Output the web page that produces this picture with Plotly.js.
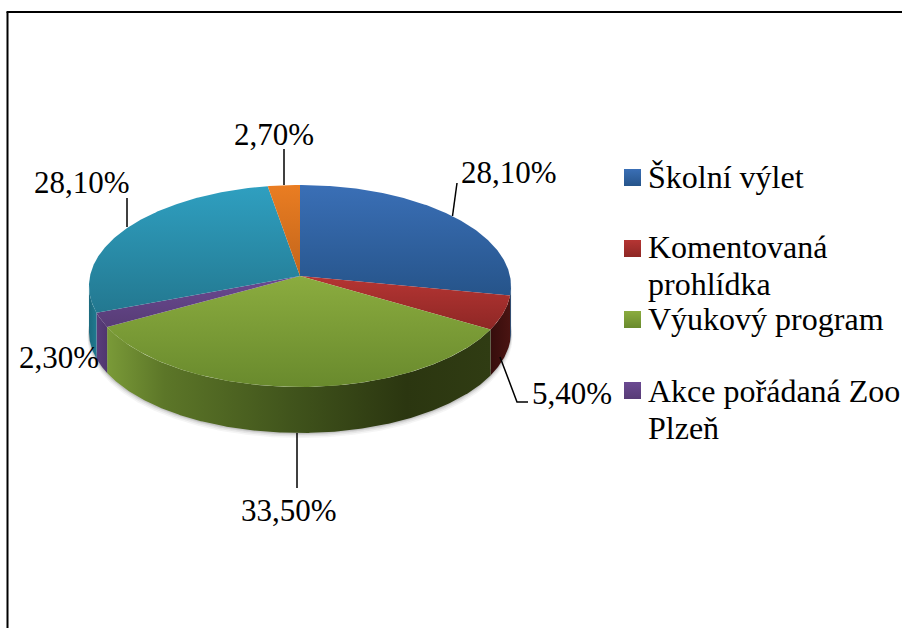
<!DOCTYPE html>
<html><head><meta charset="utf-8">
<script src="https://cdn.plot.ly/plotly-3.0.1.min.js"></script>
<style>html,body{margin:0;padding:0;background:#fff}</style></head>
<body><div id="chart" style="width:902px;height:628px"></div>
<script>
// ---- data ----
const sliceValues = [28.1, 5.4, 33.5, 2.3, 28.1, 2.7];
const sliceLabels = ['28,10%', '5,40%', '33,50%', '2,30%', '28,10%', '2,70%'];
const legendNames = ['Školní výlet', 'Komentovaná<br>prohlídka', 'Výukový program', 'Akce pořádaná Zoo<br>Plzeň'];

// ---- styles ----
const topTop  = ['#3a6fb6', '#b53533', '#8bac3f', '#6b4a92', '#2f9fc0', '#ea7d22'];
const topBot  = ['#26548a', '#8e2725', '#698a2d', '#573c76', '#237890', '#c2651b'];
const wallScale = [
  [[0,'#1f4470'],[1,'#1f4470']],
  [[0,'#360d0c'],[1,'#4a1412']],
  [[0,'#7a9a38'],[0.15,'#5c7628'],[0.5,'#3f521b'],[0.78,'#2b3610'],[1,'#303c13']],
  [[0,'#5a3e7c'],[1,'#50366f']],
  [[0,'#1c6a7e'],[1,'#1f7a90']],
  [[0,'#a8561a'],[1,'#a8561a']]
];
const cx = 300, cy = 276, A = 210, B = 100, P = 0.099, depth = 46;
const FONT = 'Liberation Serif';
const LBL = 31, LEG = 32;

function project(deg) {
  const t = deg * Math.PI / 180, X = Math.sin(t), Y = Math.cos(t), w = 1 + P * Y;
  return [cx + A * X / w, cy - B * Y / w];
}
function arc(a0, a1) {
  const pts = [], n = Math.max(2, Math.ceil(Math.abs(a1 - a0) * 2));
  for (let i = 0; i <= n; i++) pts.push(project(a0 + (a1 - a0) * i / n));
  return pts;
}
const total = sliceValues.reduce((a, b) => a + b, 0);
const traces = [];
const poly = (pts, extra) => Object.assign({
  type: 'scatter', mode: 'lines', x: pts.map(p => p[0]), y: pts.map(p => p[1]),
  fill: 'toself', line: {width: 0}, hoverinfo: 'skip', showlegend: false
}, extra);

const WALL0 = 95.7, WALL1 = 264.3;
// soft shadow below the disc
[[5, .05], [3.5, .07], [2, .10], [1, .12]].forEach(([o, a]) => {
  const rim = arc(WALL0, WALL1);
  const pts = rim.map(p => [p[0] + (p[0] > cx ? 1 : -1) * o * .3, p[1] + depth + o])
    .concat(rim.slice().reverse().map(p => [p[0], p[1] + depth - 6]));
  traces.push(poly(pts, {fillcolor: `rgba(60,60,60,${a})`}));
});
// walls, then top faces
let cum = 0;
const spans = sliceValues.map(v => { const s = [cum, cum + v * 360 / total]; cum = s[1]; return s; });
spans.forEach((s, i) => {
  const a0 = Math.max(s[0], WALL0), a1 = Math.min(s[1], WALL1);
  if (a1 <= a0) return;
  const rim = arc(a0, a1);
  const pts = rim.concat(rim.slice().reverse().map(p => [p[0], p[1] + depth]));
  const xs = pts.map(p => p[0]);
  traces.push(poly(pts, {fillgradient: {type: 'horizontal', colorscale: wallScale[i],
    start: Math.min.apply(null, xs), stop: Math.max.apply(null, xs)}}));
});
spans.forEach((s, i) => {
  const pts = [[cx, cy]].concat(arc(s[0], s[1])).concat([[cx, cy]]);
  const ys = pts.map(p => p[1]);
  traces.push(poly(pts, {fillgradient: {type: 'vertical',
    colorscale: [[0, topTop[i]], [1, topBot[i]]],
    start: Math.min.apply(null, ys), stop: Math.max.apply(null, ys)}}));
});
// legend swatches
const legendY = [177, 247, 319, 391];
const swatchY = [177.5, 248.5, 319.5, 390.5];
swatchY.forEach((y, i) => traces.push(poly(
  [[624, y - 8.5], [641, y - 8.5], [641, y + 8.5], [624, y + 8.5], [624, y - 8.5]],
  {fillgradient: {type: 'vertical', colorscale: [[0, topTop[i]], [1, topBot[i]]], start: y - 8.5, stop: y + 8.5}})));

// leader lines
const leaders = [
  [[452.5, 216], [457, 183]],
  [[500, 357], [517, 402], [528, 402]],
  [[297, 433], [297, 488]],
  [[127, 227], [127, 198]],
  [[284, 185], [284, 149]]
];
leaders.forEach(l => traces.push({type: 'scatter', mode: 'lines', x: l.map(p => p[0]), y: l.map(p => p[1]),
  line: {color: '#000', width: 1.5}, hoverinfo: 'skip', showlegend: false}));

const labelPos = [[509, 172], [572, 393], [289, 510], [59, 357], [82, 182], [274, 134]];
const annotations = sliceLabels.map((t, i) => ({
  x: labelPos[i][0], y: labelPos[i][1], text: t, showarrow: false, xanchor: 'center', yanchor: 'middle',
  font: {family: FONT, size: LBL, color: '#000'}
}));
const legendLineGap = 37;
legendNames.forEach((n, i) => n.split('<br>').forEach((ln, j) => annotations.push({
  x: 646, y: legendY[i] + j * legendLineGap, text: ln, showarrow: false, xanchor: 'left', yanchor: 'middle',
  font: {family: FONT, size: LEG, color: '#000'}
})));

const layout = {
  width: 902, height: 628, margin: {l: 0, r: 0, t: 0, b: 0},
  paper_bgcolor: '#fff', plot_bgcolor: '#fff', showlegend: false,
  xaxis: {range: [0, 902], visible: false, fixedrange: true},
  yaxis: {range: [628, 0], visible: false, fixedrange: true},
  annotations,
  shapes: [
    {type: 'line', x0: 6.5, x1: 902, y0: 12, y1: 12, line: {color: '#000', width: 2}},
    {type: 'line', x0: 7.5, x1: 7.5, y0: 12, y1: 628, line: {color: '#000', width: 2}}
  ]
};
Plotly.newPlot('chart', traces, layout, {displayModeBar: false, staticPlot: true});
</script></body></html>
